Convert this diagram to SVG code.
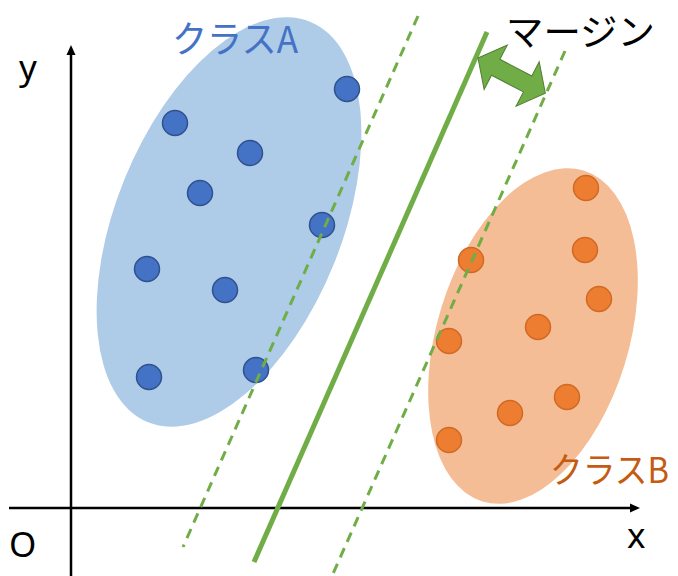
<svg xmlns="http://www.w3.org/2000/svg" width="678" height="576" viewBox="0 0 678 576">
<defs>
<style>
.bp{fill:#4472C4;stroke:#2F528F;stroke-width:1.5}
.op{fill:#ED7D31;stroke:#CF6A24;stroke-width:1.5}
.ax{stroke:#000;stroke-width:2.5;fill:none}
.dash{stroke:#70AD47;stroke-width:3;stroke-dasharray:10 7;fill:none}
.solid{stroke:#70AD47;stroke-width:5;fill:none}
.lat{font-family:"Noto Sans","Liberation Sans",sans-serif;font-size:35px;fill:#000}
.jp{font-family:"Noto Sans CJK JP","Noto Sans",sans-serif;font-size:37px}
</style>
</defs>
<rect width="678" height="576" fill="#fff"/>
<g id="classA">
<ellipse cx="229" cy="222" rx="113" ry="216" transform="rotate(22 229 222)" fill="#AECBE8"/>
<circle class="bp" cx="347" cy="89" r="12.5"/>
<circle class="bp" cx="175" cy="123" r="12.5"/>
<circle class="bp" cx="250" cy="153" r="12.5"/>
<circle class="bp" cx="200" cy="193" r="12.5"/>
<circle class="bp" cx="322" cy="225" r="12.5"/>
<circle class="bp" cx="147" cy="269" r="12.5"/>
<circle class="bp" cx="225" cy="290" r="12.5"/>
<circle class="bp" cx="149" cy="377" r="12.5"/>
<circle class="bp" cx="256" cy="370" r="12.5"/>
</g>
<g id="classB">
<ellipse cx="533" cy="336" rx="96" ry="173" transform="rotate(17 533 336)" fill="#F4BD96"/>
<circle class="op" cx="586" cy="188" r="12.5"/>
<circle class="op" cx="585" cy="250" r="12.5"/>
<circle class="op" cx="599" cy="299" r="12.5"/>
<circle class="op" cx="538" cy="327" r="12.5"/>
<circle class="op" cx="471" cy="260" r="12.5"/>
<circle class="op" cx="449" cy="341" r="12.5"/>
<circle class="op" cx="510" cy="413" r="12.5"/>
<circle class="op" cx="567" cy="397" r="12.5"/>
<circle class="op" cx="449" cy="440" r="12.5"/>
</g>
<g id="connectors">
<line class="ax" x1="71" y1="576" x2="71" y2="52"/>
<polygon points="71,45 66.5,55 75.5,55" fill="#000"/>
<line class="ax" x1="9" y1="508" x2="632" y2="508"/>
<polygon points="640,508 630,503.5 630,512.5" fill="#000"/>
<line class="dash" x1="418" y1="16" x2="183" y2="547"/>
<line class="dash" x1="565" y1="51" x2="332" y2="576"/>
<line class="solid" x1="487" y1="32" x2="254" y2="562"/>
<polygon transform="translate(478 58) rotate(27.6)" points="0,0 20,-25 20,-9 56,-9 56,-25 76,0 56,25 56,9 20,9 20,25" fill="#70AD47" stroke="#507E32" stroke-width="1"/>
</g>
<g id="labels">
<text class="jp" x="172" y="53" fill="#4472C4" textLength="126" lengthAdjust="spacingAndGlyphs">クラスA</text>
<text class="jp" x="550" y="483" fill="#C55A11" style="font-size:35px" textLength="119" lengthAdjust="spacingAndGlyphs">クラスB</text>
<text class="jp" x="506" y="46" fill="#000" textLength="149" lengthAdjust="spacingAndGlyphs">マージン</text>
<text class="lat" x="19" y="80">y</text>
<text class="lat" x="9" y="557">O</text>
<text class="lat" x="627" y="548">x</text>
</g>
</svg>
